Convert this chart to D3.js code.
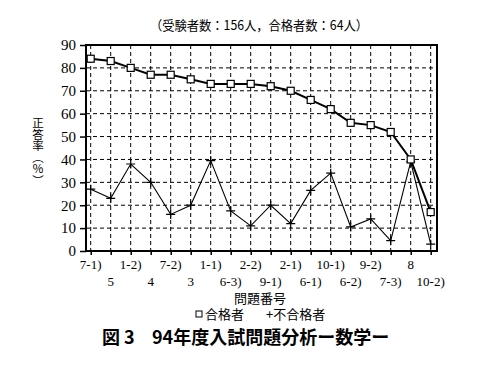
<!DOCTYPE html>
<html><head><meta charset="utf-8">
<script src="https://cdn.jsdelivr.net/npm/d3@7"></script>
<style>body{margin:0;background:#fff}svg{display:block}</style>
</head><body>
<script>
const categories = ["7-1)","5","1-2)","4","7-2)","3","1-1)","6-3)","2-2)","9-1)","2-1)","6-1)","10-1)","6-2)","9-2)","7-3)","8","10-2)"];
const passed = [84,83,80,77,77,75,73,73,73,72,70,66,62,56,55,52,40,17];
const failed = [27,23,38,30,16,20,39.5,17.5,11,20,12,26.5,34,10.5,14,4.5,39,3];
const yTicks = [0,10,20,30,40,50,60,70,80,90];
const seriesNames = ["合格者","不合格者"];

(function () {
const W = 492, H = 370;
const svg = d3.select("body").append("svg").attr("width", W).attr("height", H);
const serif = "'Liberation Serif','DejaVu Serif',serif";
const cjk = "'Noto Sans CJK JP','Noto Sans CJK SC',sans-serif";

const pL = 86, pR = 437, pT = 45, pB = 251;
const x = d3.scalePoint().domain(d3.range(categories.length)).range([90.7, 430.7]);
const y = d3.scaleLinear().domain([0, 90]).range([pB, pT]);

// grid
const g = svg.append("g");
g.selectAll(".vg").data(d3.range(categories.length)).join("line")
  .attr("x1", d => x(d)).attr("x2", d => x(d)).attr("y1", pT).attr("y2", pB)
  .attr("stroke", "#000").attr("stroke-width", 1).attr("stroke-dasharray", "4,3");
g.selectAll(".hg").data(yTicks.filter(v => v > 0 && v < 90)).join("line")
  .attr("x1", pL).attr("x2", pR).attr("y1", d => y(d)).attr("y2", d => y(d))
  .attr("stroke", "#000").attr("stroke-width", 1).attr("stroke-dasharray", "4,3");

// frame
svg.append("rect").attr("x", pL).attr("y", pT).attr("width", pR - pL).attr("height", pB - pT)
  .attr("fill", "none").attr("stroke", "#000").attr("stroke-width", 2);

// y axis
const yAxis = d3.axisLeft(y).tickValues(yTicks).tickSize(6).tickPadding(4);
const ya = svg.append("g").attr("transform", `translate(${pL},0)`).call(yAxis);
ya.select(".domain").remove();
ya.selectAll("line").attr("stroke-width", 1.5);
ya.selectAll("text").attr("font-family", serif).attr("font-size", 15).attr("fill", "#000");

// x axis
const xAxis = d3.axisBottom(x).tickSize(4).tickFormat(() => "");
const xa = svg.append("g").attr("transform", `translate(0,${pB})`).call(xAxis);
xa.select(".domain").remove();
xa.selectAll("line").attr("stroke-width", 1.5);
svg.append("g").selectAll("text").data(categories).join("text")
  .attr("x", (d, i) => x(i)).attr("y", (d, i) => i % 2 === 0 ? 269 : 286)
  .attr("text-anchor", "middle").attr("font-family", serif).attr("font-size", 13)
  .text(d => d);

// lines
const line = d3.line().x((d, i) => x(i)).y(d => y(d));
svg.append("path").datum(failed).attr("d", line).attr("fill", "none").attr("stroke", "#000").attr("stroke-width", 1.1);
svg.append("path").datum(passed).attr("d", line).attr("fill", "none").attr("stroke", "#000").attr("stroke-width", 2);

// markers
svg.append("g").selectAll("path").data(failed).join("path")
  .attr("d", (d, i) => { const cx = x(i), cy = y(d); return `M${cx-4.5},${cy}H${cx+4.5}M${cx},${cy-4.5}V${cy+4.5}`; })
  .attr("stroke", "#000").attr("stroke-width", 1.2);
svg.append("g").selectAll("rect").data(passed).join("rect")
  .attr("x", (d, i) => x(i) - 3.5).attr("y", d => y(d) - 3.5).attr("width", 7).attr("height", 7)
  .attr("fill", "#fff").attr("stroke", "#000").attr("stroke-width", 1.2);

// title annotation
svg.append("text").attr("x", 259).attr("y", 30).attr("text-anchor", "middle")
  .attr("font-family", cjk).attr("font-size", 13)
  .attr("textLength", 218).attr("lengthAdjust", "spacingAndGlyphs")
  .text("（受験者数：156人，合格者数：64人）");

// y title (vertical writing)
svg.append("text").attr("x", 38).attr("y", 117)
  .style("writing-mode", "vertical-rl")
  .attr("font-family", cjk).attr("font-size", 11.5)
  .text("正答率（％）");

// x title
svg.append("text").attr("x", 260).attr("y", 303).attr("text-anchor", "middle")
  .attr("font-family", cjk).attr("font-size", 13).text("問題番号");

// legend
const lg = svg.append("g");
lg.append("rect").attr("x", 196).attr("y", 311).attr("width", 6).attr("height", 6)
  .attr("fill", "none").attr("stroke", "#000").attr("stroke-width", 1);
lg.append("text").attr("x", 205).attr("y", 319).attr("font-family", cjk).attr("font-size", 13).text(seriesNames[0]);
lg.append("text").attr("x", 266).attr("y", 319).attr("font-family", cjk).attr("font-size", 13).text("+" + seriesNames[1]);

// caption
svg.append("text").attr("x", 102).attr("y", 344).attr("font-family", cjk).attr("font-size", 18).attr("font-weight", "bold").text("図 3");
svg.append("text").attr("x", 152).attr("y", 344).attr("font-family", cjk).attr("font-size", 18).attr("font-weight", "bold").text("94年度入試問題分析ー数学ー");
})();
</script>
</body></html>
